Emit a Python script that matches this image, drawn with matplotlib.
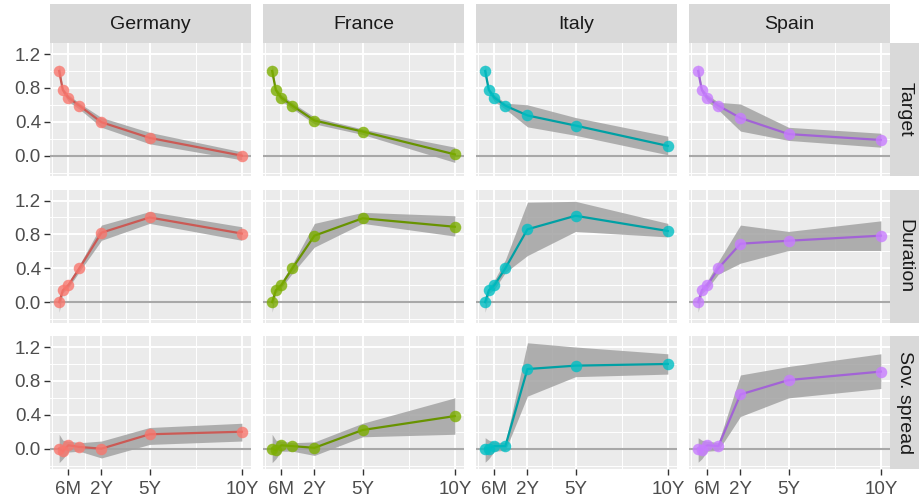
import numpy as np
import matplotlib
matplotlib.use("Agg")
import matplotlib.pyplot as plt
from matplotlib.patches import Rectangle

plt.rcParams['font.family'] = ['Liberation Sans', 'DejaVu Sans']

# ---- data -------------------------------------------------------------
countries = ["Germany", "France", "Italy", "Spain"]
shocks = ["Target", "Duration", "Sov. spread"]
maturities = [1 / 12, 0.25, 0.5, 1, 2, 5, 10]          # years
tick_values = [0.5, 2, 5, 10]
tick_labels = ["6M", "2Y", "5Y", "10Y"]

# rows: Germany, France, Italy, Spain
target_mid = [[1.00, 0.775, 0.685, 0.59, 0.395, 0.21, 0.00],
              [1.00, 0.775, 0.685, 0.59, 0.415, 0.285, 0.015],
              [1.00, 0.775, 0.685, 0.59, 0.475, 0.355, 0.115],
              [1.00, 0.775, 0.685, 0.59, 0.445, 0.255, 0.185]]
target_lo = [[0.93, 0.74, 0.64, 0.55, 0.335, 0.14, -0.05],
             [0.93, 0.74, 0.645, 0.555, 0.375, 0.25, -0.08],
             [0.93, 0.74, 0.64, 0.55, 0.34, 0.24, 0.01],
             [0.93, 0.74, 0.64, 0.54, 0.29, 0.18, 0.10]]
target_hi = [[1.08, 0.80, 0.72, 0.62, 0.45, 0.275, 0.045],
             [1.08, 0.80, 0.72, 0.625, 0.455, 0.315, 0.10],
             [1.08, 0.80, 0.72, 0.62, 0.60, 0.45, 0.23],
             [1.08, 0.80, 0.72, 0.63, 0.61, 0.335, 0.265]]

duration_mid = [[0.0, 0.14, 0.20, 0.40, 0.82, 1.00, 0.81],
                [0.0, 0.14, 0.20, 0.40, 0.785, 0.99, 0.89],
                [0.0, 0.14, 0.20, 0.40, 0.86, 1.02, 0.84],
                [0.0, 0.14, 0.20, 0.40, 0.69, 0.725, 0.785]]
duration_lo = [[-0.12, 0.11, 0.17, 0.36, 0.73, 0.93, 0.73],
               [-0.12, 0.11, 0.17, 0.34, 0.65, 0.93, 0.78],
               [-0.12, 0.10, 0.15, 0.35, 0.55, 0.835, 0.77],
               [-0.12, 0.10, 0.16, 0.33, 0.46, 0.61, 0.61]]
duration_hi = [[0.03, 0.17, 0.23, 0.44, 0.91, 1.07, 0.89],
               [0.03, 0.17, 0.24, 0.45, 0.93, 1.06, 1.02],
               [0.03, 0.18, 0.26, 0.50, 1.18, 1.19, 0.93],
               [0.03, 0.18, 0.25, 0.48, 0.91, 0.835, 0.96]]

spread_mid = [[0.0, -0.03, 0.04, 0.02, 0.0, 0.17, 0.20],
              [0.0, -0.02, 0.04, 0.03, 0.01, 0.22, 0.385],
              [0.0, 0.0, 0.03, 0.03, 0.94, 0.98, 1.00],
              [0.0, -0.01, 0.04, 0.03, 0.64, 0.81, 0.91]]
spread_lo = [[-0.165, -0.12, -0.04, -0.03, -0.11, 0.05, 0.09],
             [-0.165, -0.12, -0.03, -0.03, -0.08, 0.14, 0.17],
             [-0.16, -0.12, -0.03, -0.02, 0.62, 0.85, 0.88],
             [-0.16, -0.12, -0.03, -0.02, 0.38, 0.60, 0.71]]
spread_hi = [[0.17, 0.10, 0.09, 0.07, 0.09, 0.25, 0.30],
             [0.17, 0.10, 0.09, 0.07, 0.08, 0.30, 0.60],
             [0.13, 0.10, 0.08, 0.07, 1.25, 1.20, 1.12],
             [0.13, 0.10, 0.09, 0.07, 0.87, 0.97, 1.12]]

series = [(target_mid, target_lo, target_hi),
          (duration_mid, duration_lo, duration_hi),
          (spread_mid, spread_lo, spread_hi)]

# ---- styling ----------------------------------------------------------
point_colors = ["#F8766D", "#7CAE00", "#00BFC4", "#C77CFF"]
line_colors = ["#CB5A55", "#689300", "#00A0A4", "#A263D6"]
panel_bg = "#EBEBEB"
strip_bg = "#D9D9D9"

# piecewise-linear maturity axis
knot_x = np.array([0.5, 2.0, 5.0, 10.0])
knot_u = np.array([0.0, 33.0, 81.0, 173.0])
slope_lo = (knot_u[1] - knot_u[0]) / (knot_x[1] - knot_x[0])
slope_hi = (knot_u[-1] - knot_u[-2]) / (knot_x[-1] - knot_x[-2])


def fwd(x):
    x = np.asarray(x, dtype=float)
    u = np.interp(x, knot_x, knot_u)
    u = np.where(x < knot_x[0], knot_u[0] + (x - knot_x[0]) * slope_lo, u)
    u = np.where(x > knot_x[-1], knot_u[-1] + (x - knot_x[-1]) * slope_hi, u)
    return u


def inv(u):
    u = np.asarray(u, dtype=float)
    x = np.interp(u, knot_u, knot_x)
    x = np.where(u < knot_u[0], knot_x[0] + (u - knot_u[0]) / slope_lo, x)
    x = np.where(u > knot_u[-1], knot_x[-1] + (u - knot_u[-1]) / slope_hi, x)
    return x


u_min, u_max = fwd(maturities[0]), fwd(maturities[-1])
pad = 0.05 * (u_max - u_min)
x_lim = (float(inv(u_min - pad)), float(inv(u_max + pad)))
u_ticks = fwd(tick_values)
u_minor = np.concatenate([[u_ticks[0] - (u_ticks[1] - u_ticks[0]) / 2],
                          (u_ticks[:-1] + u_ticks[1:]) / 2])
x_minor = inv(u_minor)

y_lim = (-0.24, 1.33)
y_major = [0.0, 0.4, 0.8, 1.2]
y_minor = [-0.2, 0.2, 0.6, 1.0]

W, H = 919, 504
fig = plt.figure(figsize=(W / 100, H / 100), dpi=100)

col_left = [50, 263, 476, 689]
panel_w = 201
row_top = [43, 189.5, 336]
panel_h = 133
strip_h = 39
strip_w = 30


def fig_rect(x0, y0, w, h):
    return [x0 / W, 1 - (y0 + h) / H, w / W, h / H]


for r in range(3):
    mid_all, lo_all, hi_all = series[r]
    for c in range(4):
        ax = fig.add_axes(fig_rect(col_left[c], row_top[r], panel_w, panel_h))
        ax.set_xscale('function', functions=(fwd, inv))
        ax.set_xlim(*x_lim)
        ax.set_ylim(*y_lim)
        ax.set_facecolor(panel_bg)
        for s in ax.spines.values():
            s.set_visible(False)

        ax.set_xticks(tick_values)
        ax.set_xticks(x_minor, minor=True)
        ax.set_yticks(y_major)
        ax.set_yticks(y_minor, minor=True)
        ax.grid(which='major', color='white', linewidth=1.4, zorder=0)
        ax.grid(which='minor', color='white', linewidth=0.7, zorder=0)
        ax.set_axisbelow(True)

        ax.tick_params(which='minor', length=0)
        ax.tick_params(which='major', length=4.0, width=1.0, color='#333333',
                       labelsize=13.5, labelcolor='#4D4D4D')
        ax.tick_params(axis='y', pad=2.5)
        ax.tick_params(axis='x', pad=4.5)
        if c == 0:
            ax.set_yticklabels(["0.0", "0.4", "0.8", "1.2"])
        else:
            ax.tick_params(axis='y', length=0, labelleft=False)
        if r == 2:
            ax.set_xticklabels(tick_labels)
        else:
            ax.tick_params(axis='x', length=0, labelbottom=False)

        ax.axhline(0, color='#A8A8A8', linewidth=1.5, zorder=1)
        ax.fill_between(maturities, lo_all[c], hi_all[c], color='#A3A3A3',
                        alpha=0.85, linewidth=0, zorder=2)
        ax.plot(maturities, mid_all[c], color=line_colors[c], linewidth=1.6,
                zorder=3)
        ax.plot(maturities, mid_all[c], linestyle='none', marker='o',
                markersize=8.3, markeredgewidth=0, color=point_colors[c],
                alpha=0.8, zorder=4)

        # column strip
        if r == 0:
            sax = fig.add_axes(fig_rect(col_left[c], row_top[0] - strip_h,
                                        panel_w, strip_h))
            sax.set_axis_off()
            sax.add_patch(Rectangle((0, 0), 1, 1, transform=sax.transAxes,
                                    facecolor=strip_bg, edgecolor='none'))
            sax.text(0.5, 0.47, countries[c], ha='center', va='center',
                     fontsize=14, color='#1A1A1A', transform=sax.transAxes)
        # row strip
        if c == 3:
            rax = fig.add_axes(fig_rect(col_left[3] + panel_w, row_top[r],
                                        strip_w, panel_h))
            rax.set_axis_off()
            rax.add_patch(Rectangle((0, 0), 1, 1, transform=rax.transAxes,
                                    facecolor=strip_bg, edgecolor='none'))
            rax.text(0.5, 0.5, shocks[r], ha='center', va='center',
                     rotation=-90, fontsize=14, color='#1A1A1A',
                     transform=rax.transAxes)

fig.savefig("out.png", dpi=100, facecolor='white')
